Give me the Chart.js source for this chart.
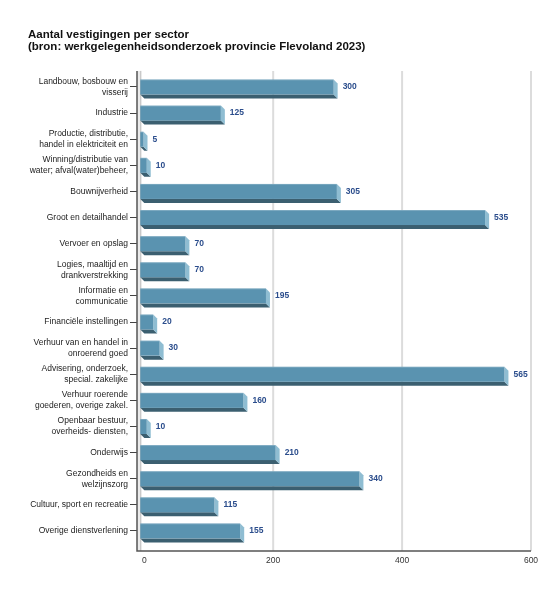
<!DOCTYPE html>
<html>
<head>
<meta charset="utf-8">
<script src="https://cdn.jsdelivr.net/npm/chart.js@4.4.1/dist/chart.umd.min.js"></script>
<style>
  html, body { margin: 0; padding: 0; background: #fff; }
  #wrap { width: 559px; height: 592px; }
</style>
</head>
<body>
<div id="wrap"><canvas id="chart" width="559" height="592"></canvas></div>
<script>
// data
const titleLines = ['Aantal vestigingen per sector', '(bron: werkgelegenheidsonderzoek provincie Flevoland 2023)'];
const sectors = [
  ['Landbouw, bosbouw en', 'visserij'],
  'Industrie',
  ['Productie, distributie,', 'handel in elektriciteit en'],
  ['Winning/distributie van', 'water; afval(water)beheer,'],
  'Bouwnijverheid',
  'Groot en detailhandel',
  'Vervoer en opslag',
  ['Logies, maaltijd en', 'drankverstrekking'],
  ['Informatie en', 'communicatie'],
  'Financiële instellingen',
  ['Verhuur van en handel in', 'onroerend goed'],
  ['Advisering, onderzoek,', 'special. zakelijke'],
  ['Verhuur roerende', 'goederen, overige zakel.'],
  ['Openbaar bestuur,', 'overheids- diensten,'],
  'Onderwijs',
  ['Gezondheids en', 'welzijnszorg'],
  'Cultuur, sport en recreatie',
  'Overige dienstverlening'
];
const counts = [300, 125, 5, 10, 305, 535, 70, 70, 195, 20, 30, 565, 160, 10, 210, 340, 115, 155];
const xTicks = [0, 200, 400, 600];

const FONT = "'Liberation Sans', Arial, sans-serif";
const DEPTH = 4;

// walls, grid and axis lines behind the bars
const backdrop = {
  id: 'backdrop',
  beforeDatasetsDraw(chart) {
    const { ctx, chartArea: ca, scales: { x } } = chart;
    const top = ca.top - 3;
    const bottom = ca.bottom + 7;
    const zero = x.getPixelForValue(0);
    ctx.save();
    // left wall
    ctx.fillStyle = '#ebebeb';
    ctx.fillRect(ca.left, top, zero - DEPTH - ca.left, bottom - top);
    ctx.strokeStyle = '#b5b5b5';
    ctx.lineWidth = 1;
    ctx.beginPath();
    ctx.moveTo(zero - DEPTH + 0.5, top);
    ctx.lineTo(zero - DEPTH + 0.5, bottom);
    ctx.stroke();
    // grid lines
    ctx.strokeStyle = '#dcdcdc';
    ctx.lineWidth = 2;
    xTicks.slice(1).forEach((v) => {
      const px = x.getPixelForValue(v);
      ctx.beginPath();
      ctx.moveTo(px, top);
      ctx.lineTo(px, bottom);
      ctx.stroke();
    });
    // axis lines
    ctx.strokeStyle = '#555';
    ctx.lineWidth = 1.5;
    ctx.beginPath();
    ctx.moveTo(ca.left, top);
    ctx.lineTo(ca.left, bottom);
    ctx.lineTo(ca.right, bottom);
    ctx.stroke();
    ctx.restore();
  }
};

// 3D bars and value labels
const bars3d = {
  id: 'bars3d',
  afterDatasetsDraw(chart) {
    const { ctx } = chart;
    const meta = chart.getDatasetMeta(0);
    ctx.save();
    meta.data.forEach((bar, i) => {
      const { x, y, base, height } = bar.getProps(['x', 'y', 'base', 'height'], true);
      const L = base - DEPTH, R = x - DEPTH;
      const T = y - height / 2, B = y + height / 2;
      // bottom face
      ctx.fillStyle = '#3b5f70';
      ctx.beginPath();
      ctx.moveTo(L, B); ctx.lineTo(R, B); ctx.lineTo(R + DEPTH, B + DEPTH); ctx.lineTo(L + DEPTH, B + DEPTH);
      ctx.closePath(); ctx.fill();
      // right face
      ctx.fillStyle = '#8fbdd2';
      ctx.beginPath();
      ctx.moveTo(R, T); ctx.lineTo(R + DEPTH, T + DEPTH); ctx.lineTo(R + DEPTH, B + DEPTH); ctx.lineTo(R, B);
      ctx.closePath(); ctx.fill();
      // front face
      ctx.fillStyle = '#5a93b0';
      ctx.fillRect(L, T, R - L, B - T);
      ctx.fillStyle = 'rgba(255,255,255,0.18)';
      ctx.fillRect(L, T, R - L, 1);
      // value
      ctx.font = 'bold 8.5px ' + FONT;
      ctx.fillStyle = '#2b4d8c';
      ctx.textAlign = 'left';
      ctx.textBaseline = 'middle';
      ctx.fillText(counts[i], x + 5, y);
    });
    ctx.restore();
  }
};

new Chart(document.getElementById('chart'), {
  type: 'bar',
  data: {
    labels: sectors,
    datasets: [{
      data: counts,
      backgroundColor: 'rgba(0,0,0,0)',
      borderWidth: 0,
      barThickness: 15
    }]
  },
  options: {
    indexAxis: 'y',
    responsive: false,
    animation: false,
    layout: { padding: { left: 28, right: 28, top: 0, bottom: 0 } },
    plugins: {
      legend: { display: false },
      tooltip: { enabled: false },
      title: {
        display: true,
        align: 'start',
        text: titleLines,
        color: '#111',
        font: { family: FONT, size: 11.5, weight: 'bold', lineHeight: 1.04 },
        padding: { top: 28.8, bottom: 21.2 }
      }
    },
    scales: {
      x: {
        min: -11.3,
        max: 600,
        afterBuildTicks: (scale) => { scale.ticks = xTicks.map((v) => ({ value: v })); },
        afterFit: (scale) => { scale.height = 48; },
        grid: { display: false, drawTicks: false },
        border: { display: false },
        ticks: { color: '#333', padding: 11.5, font: { family: FONT, size: 8.5 } }
      },
      y: {
        afterFit: (scale) => { scale.width = 109; },
        grid: { offset: false, drawOnChartArea: false, tickLength: 7, color: '#444', lineWidth: 1 },
        border: { display: false },
        ticks: { color: '#222', padding: 2, font: { family: FONT, size: 8.5, lineHeight: 1.3 } }
      }
    }
  },
  plugins: [backdrop, bars3d]
});
</script>
</body>
</html>
